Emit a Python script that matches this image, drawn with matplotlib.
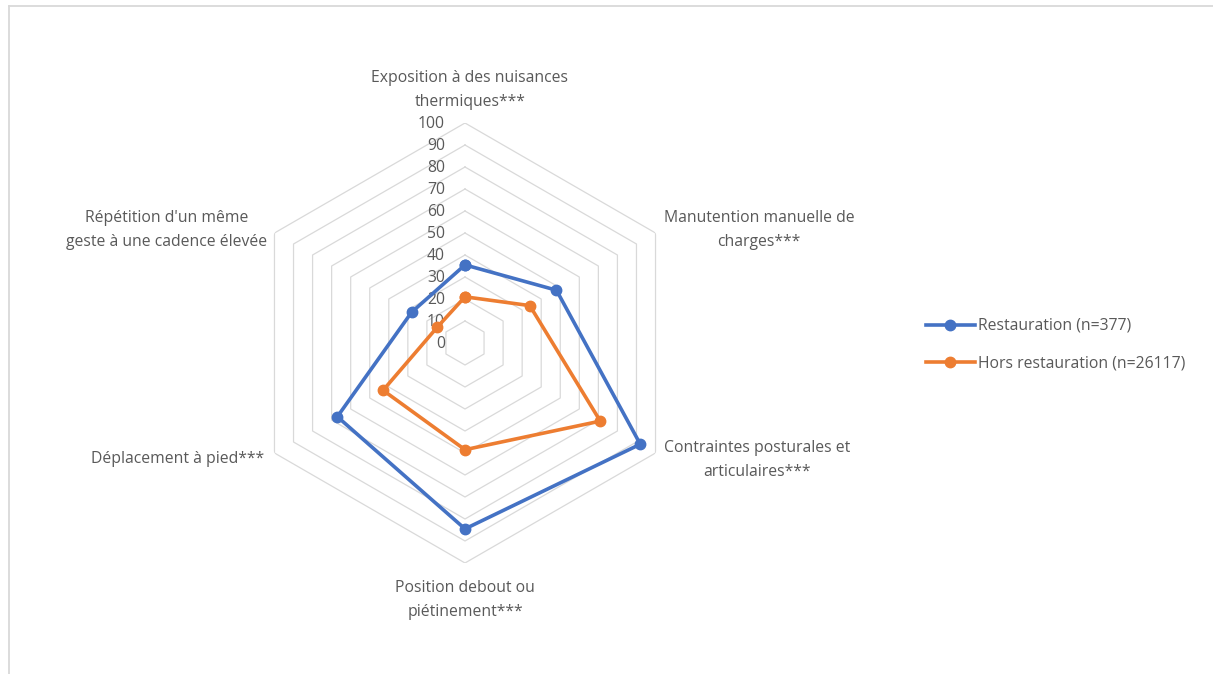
import numpy as np
import matplotlib
matplotlib.use("Agg")
from matplotlib import pyplot as plt
from matplotlib.lines import Line2D

plt.rcParams['font.family'] = ['Open Sans', 'DejaVu Sans']

categories = [
    "Exposition à des nuisances\nthermiques***",
    "Manutention manuelle de\ncharges***",
    "Contraintes posturales et\narticulaires***",
    "Position debout ou\npiétinement***",
    "Déplacement à pied***",
    "Répétition d'un même\ngeste à une cadence élevée",
]
restauration = [35.5, 48, 92, 84.5, 67, 28]
hors_restauration = [21, 34, 71, 48.5, 43, 14.5]
series_labels = ["Restauration (n=377)", "Hors restauration (n=26117)"]
rings = list(range(10, 101, 10))
tick_labels = [str(v) for v in range(0, 101, 10)]

BLUE = '#4472C4'
ORANGE = '#ED7D31'
GRID = '#d9d9d9'
TEXT = '#595959'
W, H = 1213, 674
FS = 11.3

fig = plt.figure(figsize=(W / 100, H / 100), dpi=100)
fig.patch.set_facecolor('white')

# axes square of 440 px centred on (465, 343) px from top-left
cx, cy, R = 465, 343, 220
ax = fig.add_axes([(cx - R) / W, (H - cy - R) / H, 2 * R / W, 2 * R / H],
                  projection='polar')
ax.set_theta_zero_location('N')
ax.set_theta_direction(-1)
ax.set_ylim(0, 100)
ax.grid(False)
ax.set_xticks([])
ax.set_yticks([])
ax.spines['polar'].set_visible(False)
ax.patch.set_visible(False)

n = len(categories)
theta = np.arange(n) * 2 * np.pi / n
theta_c = np.append(theta, theta[0])

# hexagonal grid
for r in rings:
    ax.plot(theta_c, [r] * (n + 1), color=GRID, lw=0.9, zorder=1)

# radial axis labels
for lab in tick_labels:
    ax.annotate(lab, xy=(0, float(lab)), xytext=(-20, -1), textcoords='offset pixels',
                ha='right', va='center', fontsize=FS, color=TEXT, zorder=2,
                annotation_clip=False)

# series
for vals, col, lab in [(restauration, BLUE, series_labels[0]),
                       (hors_restauration, ORANGE, series_labels[1])]:
    ax.plot(theta_c, np.append(vals, vals[0]), color=col, lw=2.6, marker='o',
            markersize=7.5, label=lab, zorder=3, clip_on=False)

# category labels: offsets (px) from each outer vertex
label_pos = [
    ((5, 33), 'center'),
    ((8, 3), 'left'),
    ((8, -7), 'left'),
    ((0, -37), 'center'),
    ((-10, -6), 'right'),
    ((-7, 3), 'right'),
]
for t, cat, (off, ha) in zip(theta, categories, label_pos):
    ax.annotate(cat, xy=(t, 100), xytext=off, textcoords='offset pixels',
                ha=ha, va='center', multialignment='center', fontsize=FS,
                color=TEXT, linespacing=1.6, annotation_clip=False)

# legend
fig.legend(loc='upper left', bbox_to_anchor=(926 / W, 1 - 318 / H), frameon=False,
           fontsize=FS, handlelength=3.1, handletextpad=0.2, labelspacing=1.4,
           borderpad=0, borderaxespad=0, labelcolor=TEXT)

# chart-area border (only top and left visible)
fig.add_artist(Line2D([8.5 / W, 1], [1 - 6 / H, 1 - 6 / H], color=GRID, lw=1.3,
                      transform=fig.transFigure))
fig.add_artist(Line2D([8.5 / W, 8.5 / W], [0, 1 - 6 / H], color=GRID, lw=1.3,
                      transform=fig.transFigure))

fig.savefig('out.png', dpi=100, facecolor='white')
